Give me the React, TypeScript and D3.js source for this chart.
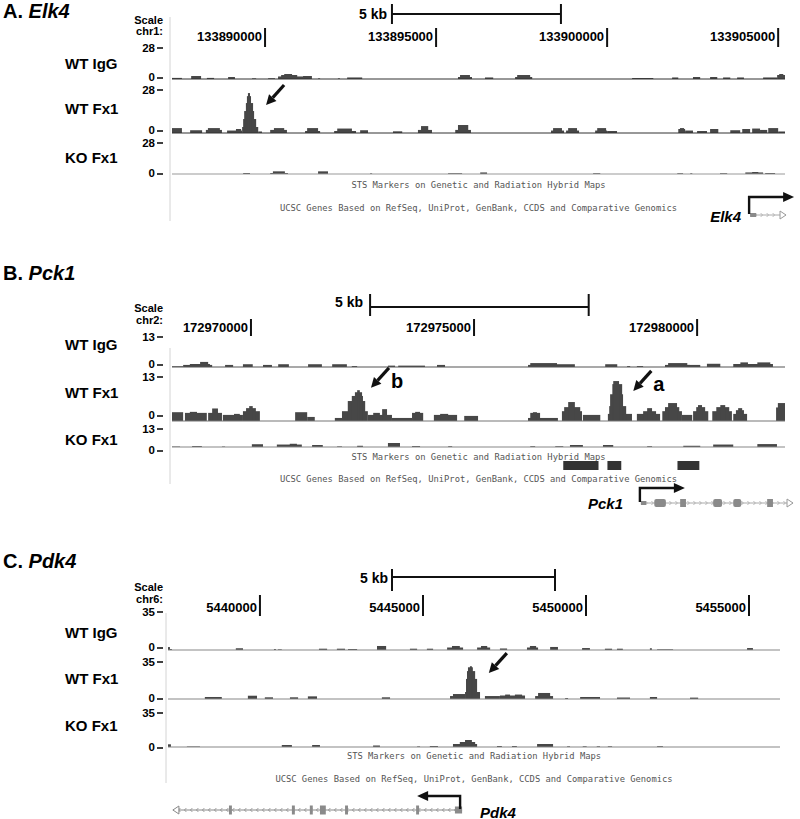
import React from 'react';
import * as d3 from 'd3';

// [startKb, endKb, signal] – kb counted from each panel's first labelled coordinate
type Seg = [number, number, number];

// ---------- A. Elk4 (chr1, origin 133,890,000) ----------
const elk4Origin = 133890000;
const elk4TicksKb = [0, 5, 10, 15];
const elk4IgG: Seg[] = [
  [-2.72, -2.43, 1], [-2.16, -1.87, 2.7], [-1.7, -1.49, 1], [-1.08, -0.88, 1.8],
  [-0.38, -0.26, 0.6], [0.09, 0.29, 0.7], [0.38, 1.11, 2.3], [0.47, 0.94, 3.6], [0.56, 0.79, 4.5],
  [1.11, 1.37, 2.7], [1.55, 1.61, 0.6], [2.13, 2.19, 0.6], [2.4, 2.84, 1.4],
  [5.64, 6.05, 1.8], [5.7, 5.99, 3.6], [6.43, 6.67, 1.4], [7.31, 7.81, 1.8], [7.37, 7.75, 3.6],
  [10.73, 11.35, 0.9], [11.9, 12.08, 1.4], [12.51, 12.72, 1.8], [13.01, 13.22, 1.8],
  [13.39, 13.6, 1.4], [13.8, 14.0, 1.4], [14.56, 14.97, 1.4], [14.97, 15.2, 3.6], [15.03, 15.15, 4.5],
];
const elk4Fx1: Seg[] = [
  [-2.72, -2.43, 3.2], [-2.19, -1.84, 1.8], [-1.73, -1.26, 2], [-1.67, -1.32, 3.2],
  [-1.11, -0.67, 1.6], [-0.85, -0.7, 2.6],
  [-0.67, -0.2, 3.9], [-0.64, -0.26, 9.1], [-0.61, -0.32, 14.3], [-0.56, -0.35, 19.5], [-0.53, -0.41, 24], [-0.5, -0.44, 26],
  [-0.2, -0.09, 1], [0.15, 0.64, 2], [0.26, 0.56, 3.2], [1.17, 1.61, 1.3], [1.23, 1.55, 3.2],
  [2.02, 2.66, 1.3], [2.11, 2.54, 2.9], [2.78, 3.01, 1.8], [3.74, 4.01, 1.1],
  [4.47, 4.88, 2], [4.56, 4.77, 4.5], [5.56, 6.02, 2], [5.64, 5.94, 5.2],
  [8.36, 8.74, 1.6], [8.42, 8.68, 3.2], [8.8, 9.18, 1.6], [8.86, 9.12, 3.2],
  [9.65, 10.0, 1.6], [9.71, 9.97, 3.2], [10.0, 10.29, 1.3],
  [12.08, 12.28, 2.6], [12.13, 12.25, 3.2], [12.28, 12.51, 1.6], [12.63, 12.92, 1.3],
  [13.01, 13.25, 2.6], [13.6, 13.89, 1.8], [13.95, 14.18, 2.6], [14.24, 14.47, 2.9],
  [14.47, 14.68, 2], [14.71, 15.0, 3.2], [15.0, 15.2, 1],
];
const elk4KO: Seg[] = [
  [-0.64, -0.44, 0.9], [0.15, 0.67, 0.9], [0.23, 0.58, 2.4], [1.55, 1.84, 2.4], [3.07, 3.13, 0.6],
  [5.35, 5.76, 0.7], [6.29, 6.49, 1.4], [9.59, 9.8, 0.7], [12.05, 12.22, 0.7], [12.43, 12.49, 0.7],
  [13.3, 13.51, 0.7], [14.04, 14.56, 1.4], [14.24, 14.42, 1.8], [14.62, 14.91, 0.9],
];
// gene: [txStart, txEnd], exons [start, end, height]
const elk4Tx = [14.18, 15.23];
const elk4Exons: Seg[] = [[14.18, 14.36, 4]];

// ---------- B. Pck1 (chr2, origin 172,970,000) ----------
const pck1Origin = 172970000;
const pck1TicksKb = [0, 5, 10];
const pck1IgG: Seg[] = [
  [-1.77, -1.52, 0.3], [-1.52, -0.87, 0.9], [-1.37, -0.92, 1.3], [-1.14, -0.96, 2.2],
  [-0.58, -0.4, 0.9], [-0.18, 0.04, 1.2], [0.27, 0.47, 0.9], [0.61, 0.85, 1.2],
  [1.28, 1.59, 1.2], [1.82, 2.15, 1.2], [2.26, 2.38, 0.4], [3.07, 3.23, 0.6], [3.3, 3.9, 0.6],
  [4.17, 4.35, 0.9], [6.21, 6.93, 0.9], [6.26, 6.86, 1.7], [6.86, 7.26, 1.2], [7.94, 8.21, 1.2],
  [8.43, 8.5, 0.4], [8.65, 8.79, 0.4], [9.28, 9.84, 0.9], [9.35, 9.78, 1.7], [9.78, 10.07, 0.9],
  [10.22, 10.52, 1.4], [10.81, 11.7, 1.3], [10.97, 11.14, 2.0], [11.35, 11.64, 2.0],
];
const pck1Fx1: Seg[] = [
  [-1.77, -1.52, 2.6], [-1.48, -0.99, 2.4], [-1.37, -1.21, 2.7], [-0.96, -0.65, 2.4], [-0.87, -0.74, 3.7],
  [-0.63, -0.18, 1.8], [-0.38, -0.25, 2.1], [-0.18, 0.2, 2.9], [-0.11, 0.11, 3.8], [-0.04, 0.04, 4.4],
  [0.99, 1.26, 2.6], [1.26, 1.43, 1.2],
  [1.88, 2.04, 0.9], [2.04, 2.62, 2.9], [2.17, 2.56, 5.9], [2.26, 2.51, 7.4], [2.33, 2.49, 8.5], [2.38, 2.44, 9.1],
  [2.62, 3.16, 1.8], [2.74, 2.89, 2.4], [2.94, 3.05, 3.5], [3.16, 3.61, 0.9], [3.61, 3.86, 2.4], [3.68, 3.79, 2.7],
  [4.1, 4.62, 1.8], [4.24, 4.42, 2.1], [4.78, 5.09, 1.5],
  [6.21, 6.88, 0.9], [6.26, 6.48, 2.4], [6.32, 6.41, 2.6],
  [6.97, 7.42, 2.9], [7.02, 7.38, 4.1], [7.11, 7.26, 5.6], [7.44, 7.83, 1.8],
  [8.0, 8.54, 2.1], [8.03, 8.41, 4.4], [8.05, 8.34, 7.9], [8.1, 8.32, 10.9], [8.12, 8.25, 11.8],
  [8.65, 9.17, 2.1], [8.79, 9.08, 2.9], [8.88, 8.99, 3.8],
  [9.22, 9.66, 2.9], [9.66, 9.89, 1.8], [9.28, 9.6, 4.1], [9.35, 9.55, 5.3],
  [9.91, 10.25, 2.9], [9.98, 10.18, 4.1], [10.02, 10.11, 4.7],
  [10.34, 10.78, 2.9], [10.43, 10.72, 4.1], [10.52, 10.63, 4.7],
  [10.81, 11.12, 2.1], [10.87, 11.05, 3.2], [10.92, 11.01, 3.8],
  [11.77, 11.97, 4.0], [11.81, 11.97, 5.3],
];
const pck1KO: Seg[] = [
  [-1.77, -1.59, 0.3], [-1.32, -1.1, 0.6], [-0.65, -0.58, 0.3], [0.02, 0.27, 1.8], [0.58, 1.14, 1.6],
  [0.87, 1.03, 2.1], [1.37, 1.61, 1.3], [1.93, 2.04, 0.4], [2.38, 2.51, 0.8], [3.07, 3.34, 2.6],
  [3.61, 3.79, 0.6], [4.42, 4.51, 0.5], [6.26, 6.37, 0.5], [6.82, 7.0, 0.5], [7.15, 7.44, 1.3],
  [7.89, 8.12, 1.3], [8.88, 8.99, 0.5], [9.69, 10.07, 0.8], [10.36, 10.81, 1.6], [11.35, 11.79, 1.9],
];
const pck1Sts = [[7.0, 7.79], [7.99, 8.3], [9.56, 10.05]];
const pck1Tx = [8.74, 12.15];
const pck1Exons: Seg[] = [
  [8.74, 8.86, 4], [9.04, 9.3, 8], [9.62, 9.75, 8], [10.36, 10.56, 8], [10.81, 10.99, 8], [11.57, 11.7, 8],
];

// ---------- C. Pdk4 (chr6, origin 5,440,000) ----------
const pdk4Origin = 5440000;
const pdk4TicksKb = [0, 5, 10, 15];
const pdk4IgG: Seg[] = [
  [-2.82, -2.76, 2.7], [-2.76, -2.7, 0.9], [-0.74, -0.52, 1.6], [0.43, 0.49, 0.9], [0.55, 0.67, 0.6],
  [1.81, 2.06, 1.2], [2.36, 2.61, 1.2], [2.7, 2.98, 0.9], [3.59, 3.87, 3.7], [4.6, 4.82, 1.2],
  [5.12, 5.31, 1.2], [5.74, 6.23, 2.3], [5.89, 6.13, 3.7], [6.66, 7.06, 2.3], [6.78, 6.97, 3.7],
  [7.36, 7.58, 1.4], [8.19, 8.53, 2.3], [8.28, 8.47, 3.7], [8.9, 9.14, 2.8], [9.88, 10.12, 1.8],
  [10.58, 10.8, 1.2], [10.95, 11.13, 1.2], [11.96, 12.02, 1.6], [12.18, 12.67, 0.6], [14.94, 15.12, 1.8],
];
const pdk4Fx1: Seg[] = [
  [-1.69, -1.17, 1.9], [-0.37, -0.09, 3.1], [0.15, 0.4, 1.6], [0.92, 1.17, 1.6], [1.47, 1.75, 2.5],
  [3.74, 3.99, 1.6], [5.83, 5.92, 2.8], [5.92, 6.29, 4.7],
  [6.29, 6.75, 6.6], [6.32, 6.66, 19], [6.35, 6.6, 26.4], [6.38, 6.53, 30], [6.44, 6.5, 31],
  [6.9, 7.36, 2.8], [7.36, 8.13, 3.3], [7.52, 7.67, 4.2], [7.82, 8.04, 4.2],
  [8.44, 8.99, 2.8], [8.53, 8.9, 5.7], [9.36, 9.45, 0.9], [9.82, 10.43, 1.9], [10.95, 11.35, 1.4],
  [11.96, 12.18, 1.9], [13.19, 13.44, 1.3],
];
const pdk4KO: Seg[] = [
  [-2.82, -2.73, 2.7], [-2.24, -1.84, 0.5], [0.67, 0.98, 2], [1.6, 1.84, 2], [3.47, 3.68, 1.5],
  [4.82, 4.91, 0.6], [5.21, 5.46, 1], [5.92, 6.66, 3], [6.13, 6.6, 5], [6.29, 6.5, 7],
  [7.27, 7.42, 1], [7.73, 7.88, 1], [8.5, 8.99, 3], [9.42, 9.51, 0.7], [9.9, 10.02, 0.7],
  [10.33, 10.43, 0.7], [10.67, 10.8, 0.7], [12.18, 12.36, 0.8],
];
const pdk4Tx = [-2.67, 6.2];
const pdk4Exons: Seg[] = [
  [-0.95, -0.86, 9], [0.98, 1.07, 9], [1.53, 1.62, 9], [1.84, 2.02, 9], [2.61, 2.7, 9], [4.79, 4.88, 9], [5.98, 6.2, 7],
];

const trackNames = ['WT IgG', 'WT Fx1', 'KO Fx1'];
const stsText = 'STS Markers on Genetic and Radiation Hybrid Maps';
const genesText = 'UCSC Genes Based on RefSeq, UniProt, GenBank, CCDS and Comparative Genomics';

const FONT = '"Liberation Sans", Arial, sans-serif';
const MONO = '"DejaVu Sans Mono", monospace';
const FILL = '#474747';

const panels = [
  {
    letter: 'A.', gene: 'Elk4', chrom: 'chr1:', origin: elk4Origin, ticks: elk4TicksKb,
    kbDomain: [-2.72, 15.2], x0: 172, x1: 785, maxValue: 28,
    data: [elk4IgG, elk4Fx1, elk4KO], sts: [] as number[][],
    tx: elk4Tx, exons: elk4Exons, strand: '+',
    scaleBarKb: [3.71, 8.65],
    titleY: 18, barY: 14, barTick: [4, 24], kbLabelX: 387, kbLabelY: 19,
    scaleY: 24, chromY: 35, posTick: [28, 47], posLabelY: 41,
    border: [170, 17, 221], stsY: 185, genesY: 208,
    geneY: 215, arrowY: 197, geneLabel: { x: 741, y: 216, anchor: 'end' },
    tracks: [
      { top: 48, base: 79, maxY: 48, zeroY: 77, nameY: 63, color: '#333' },
      { top: 90, base: 133, maxY: 90, zeroY: 130, nameY: 108, color: '#333' },
      { top: 143, base: 174, maxY: 143, zeroY: 173, nameY: 157, color: '#9a9a9a' },
    ],
    marks: [{ track: 1, kb: 0.03, value: 18.2, label: '' }],
  },
  {
    letter: 'B.', gene: 'Pck1', chrom: 'chr2:', origin: pck1Origin, ticks: pck1TicksKb,
    kbDomain: [-1.77, 11.97], x0: 172, x1: 785, maxValue: 13,
    data: [pck1IgG, pck1Fx1, pck1KO], sts: pck1Sts,
    tx: pck1Tx, exons: pck1Exons, strand: '+',
    scaleBarKb: [2.67, 7.57],
    titleY: 280, barY: 307, barTick: [294, 316], kbLabelX: 363, kbLabelY: 307,
    scaleY: 312, chromY: 324, posTick: [319, 336], posLabelY: 332,
    border: [170, 348, 484], stsY: 457, genesY: 479,
    geneY: 503, arrowY: 488, geneLabel: { x: 623, y: 503, anchor: 'end' },
    tracks: [
      { top: 337, base: 367, maxY: 337, zeroY: 364, nameY: 344, color: '#555' },
      { top: 377, base: 421, maxY: 377, zeroY: 415, nameY: 392, color: '#777' },
      { top: 427, base: 447, maxY: 429, zeroY: 450, nameY: 439, color: '#888' },
    ],
    marks: [
      { track: 1, kb: 2.69, value: 9.8, label: 'b' },
      { track: 1, kb: 8.57, value: 8.9, label: 'a' },
    ],
  },
  {
    letter: 'C.', gene: 'Pdk4', chrom: 'chr6:', origin: pdk4Origin, ticks: pdk4TicksKb,
    kbDomain: [-2.82, 15.95], x0: 168, x1: 780, maxValue: 35,
    data: [pdk4IgG, pdk4Fx1, pdk4KO], sts: [] as number[][],
    tx: pdk4Tx, exons: pdk4Exons, strand: '-',
    scaleBarKb: [4.05, 9.05],
    titleY: 568, barY: 577, barTick: [569, 591], kbLabelX: 388, kbLabelY: 583,
    scaleY: 591, chromY: 603, posTick: [595, 616], posLabelY: 612,
    border: [166, 613, 783], stsY: 756, genesY: 779,
    geneY: 810, arrowY: 796, geneLabel: { x: 480, y: 812, anchor: 'start' },
    tracks: [
      { top: 612, base: 650, maxY: 612, zeroY: 647, nameY: 632, color: '#888' },
      { top: 662, base: 699, maxY: 662, zeroY: 698, nameY: 678, color: '#888' },
      { top: 712, base: 747, maxY: 713, zeroY: 747, nameY: 725, color: '#888' },
    ],
    marks: [{ track: 1, kb: 7.02, value: 24.5, label: '' }],
  },
];

type PanelCfg = (typeof panels)[number];

function Arrow({ tip, label }: { tip: [number, number]; label: string }) {
  const tail: [number, number] = [tip[0] + 18, tip[1] - 20];
  const dx = tip[0] - tail[0];
  const dy = tip[1] - tail[1];
  const len = Math.hypot(dx, dy);
  const ux = dx / len, uy = dy / len;
  const bx = tip[0] - ux * 10, by = tip[1] - uy * 10;
  const nx = -uy * 5, ny = ux * 5;
  return (
    <g>
      <line x1={tail[0]} y1={tail[1]} x2={bx} y2={by} stroke="#111" strokeWidth={3.2} />
      <polygon points={`${tip[0]},${tip[1]} ${bx + nx},${by + ny} ${bx - nx},${by - ny}`} fill="#111" />
      {label && (
        <text x={tip[0] + 20} y={tip[1] - 7} fontFamily={FONT} fontWeight="bold" fontSize={20}
          dominantBaseline="central">{label}</text>
      )}
    </g>
  );
}

function Gene({ p, xs }: { p: PanelCfg; xs: d3.ScaleLinear<number, number> }) {
  const y = p.geneY;
  const s = xs(p.tx[0]);
  const e = xs(p.tx[1]);
  const plus = p.strand === '+';
  const chevrons: number[] = d3.range(s + 6, e - 6, 6);
  const lineColor = plus ? '#aaa' : '#888';
  const bentX = plus ? s - 1 : e - 2;
  const headTip = plus ? bentX + 45 : bentX - 43;
  const dir = plus ? 1 : -1;
  return (
    <g>
      <line x1={s} x2={e} y1={y} y2={y} stroke={lineColor} strokeWidth={1} />
      {chevrons.map((c, i) => (
        <path key={i} d={`M${c - dir * 1.5},${y - 2}L${c + dir * 0.5},${y}L${c - dir * 1.5},${y + 2}`}
          fill="none" stroke={lineColor} strokeWidth={0.8} />
      ))}
      {p.exons.map((ex, i) => (
        <rect key={i} x={xs(ex[0])} width={Math.max(2, xs(ex[1]) - xs(ex[0]))} y={y - ex[2] / 2}
          height={ex[2]} rx={ex[2] > 6 && xs(ex[1]) - xs(ex[0]) > 8 ? 2 : 0} fill="#8a8a8a" />
      ))}
      {plus ? (
        <path d={`M${e - 6},${y - 4}L${e},${y}L${e - 6},${y + 4}Z`} fill="#fff" stroke="#999" strokeWidth={1} />
      ) : (
        <path d={`M${s + 6},${y - 4}L${s},${y}L${s + 6},${y + 4}Z`} fill="#fff" stroke="#888" strokeWidth={1} />
      )}
      <path d={`M${bentX},${y - 1}V${p.arrowY}H${headTip - dir * 9}`} fill="none" stroke="#111" strokeWidth={2.4} />
      <polygon points={`${headTip},${p.arrowY} ${headTip - dir * 11},${p.arrowY - 5} ${headTip - dir * 11},${p.arrowY + 5}`}
        fill="#111" />
      <text x={p.geneLabel.x} y={p.geneLabel.y} textAnchor={p.geneLabel.anchor as any} dominantBaseline="central"
        fontFamily={FONT} fontWeight="bold" fontStyle="italic" fontSize={15}>{p.gene}</text>
    </g>
  );
}

function Panel({ p }: { p: PanelCfg }) {
  const xs = d3.scaleLinear().domain(p.kbDomain).range([p.x0, p.x1]);
  const fmt = (kb: number) => String(p.origin + kb * 1000);
  const mid = (p.x0 + p.x1) / 2;
  const yScales = p.tracks.map((t) => d3.scaleLinear().domain([0, p.maxValue]).range([t.base, t.top]));
  return (
    <g>
      <text x={3} y={p.titleY} fontFamily={FONT} fontWeight="bold" fontSize={20}>
        {p.letter} <tspan fontStyle="italic">{p.gene}</tspan>
      </text>

      {/* 5 kb scale bar */}
      <text x={p.kbLabelX} y={p.kbLabelY} textAnchor="end" fontFamily={FONT} fontWeight="bold" fontSize={14}>5 kb</text>
      <line x1={xs(p.scaleBarKb[0])} x2={xs(p.scaleBarKb[1])} y1={p.barY} y2={p.barY} stroke="#111" strokeWidth={2} />
      {p.scaleBarKb.map((k, i) => (
        <line key={i} x1={xs(k)} x2={xs(k)} y1={p.barTick[0]} y2={p.barTick[1]} stroke="#111" strokeWidth={2} />
      ))}

      <text x={163} y={p.scaleY} textAnchor="end" fontFamily={FONT} fontWeight="bold" fontSize={11}>Scale</text>
      <text x={163} y={p.chromY} textAnchor="end" fontFamily={FONT} fontWeight="bold" fontSize={11}>{p.chrom}</text>

      {/* position ticks */}
      {p.ticks.map((k) => (
        <g key={k}>
          <line x1={xs(k)} x2={xs(k)} y1={p.posTick[0]} y2={p.posTick[1]} stroke="#111" strokeWidth={2} />
          <text x={xs(k) - 3} y={p.posLabelY} textAnchor="end" fontFamily={FONT} fontWeight="bold" fontSize={13}>
            {fmt(k)}
          </text>
        </g>
      ))}

      <line x1={p.border[0]} x2={p.border[0]} y1={p.border[1]} y2={p.border[2]} stroke="#d4d4d4" strokeWidth={1} />

      {p.tracks.map((t, ti) => {
        const ys = yScales[ti];
        return (
          <g key={ti}>
            <text x={65} y={t.nameY} dominantBaseline="central" fontFamily={FONT} fontWeight="bold" fontSize={15}>
              {trackNames[ti]}
            </text>
            <text x={155} y={t.maxY} textAnchor="end" dominantBaseline="central" fontFamily={FONT} fontWeight="bold" fontSize={11.5}>
              {p.maxValue}
            </text>
            <line x1={157} x2={163} y1={t.maxY} y2={t.maxY} stroke="#111" strokeWidth={1.6} />
            <text x={155} y={t.zeroY} textAnchor="end" dominantBaseline="central" fontFamily={FONT} fontWeight="bold" fontSize={11.5}>
              0
            </text>
            <line x1={157} x2={163} y1={t.zeroY + 1} y2={t.zeroY + 1} stroke="#111" strokeWidth={1.6} />
            {p.data[ti].map((d, i) => (
              <rect key={i} x={xs(d[0])} width={Math.max(0.8, xs(d[1]) - xs(d[0]))} y={ys(d[2])}
                height={t.base - ys(d[2])} fill={FILL} />
            ))}
            <line x1={p.x0} x2={p.x1} y1={t.base} y2={t.base} stroke={t.color} strokeWidth={1.2} />
          </g>
        );
      })}

      <text x={mid} y={p.stsY} textAnchor="middle" dominantBaseline="central" fontFamily={MONO} fontSize={8.8} fill="#555">
        {stsText}
      </text>
      {p.sts.map((s, i) => (
        <rect key={i} x={xs(s[0])} width={xs(s[1]) - xs(s[0])} y={p.stsY + 4} height={9} fill="#333" />
      ))}
      <text x={mid} y={p.genesY} textAnchor="middle" dominantBaseline="central" fontFamily={MONO} fontSize={8.8} fill="#555">
        {genesText}
      </text>

      <Gene p={p} xs={xs} />

      {p.marks.map((m, i) => (
        <Arrow key={i} tip={[xs(m.kb), yScales[m.track](m.value)]} label={m.label} />
      ))}
    </g>
  );
}

export default function App() {
  return (
    <svg width={800} height={819} style={{ position: 'absolute', left: 0, top: 0, background: '#fff' }}>
      <rect width={800} height={819} fill="#fff" />
      {panels.map((p) => (
        <Panel key={p.letter} p={p} />
      ))}
    </svg>
  );
}
